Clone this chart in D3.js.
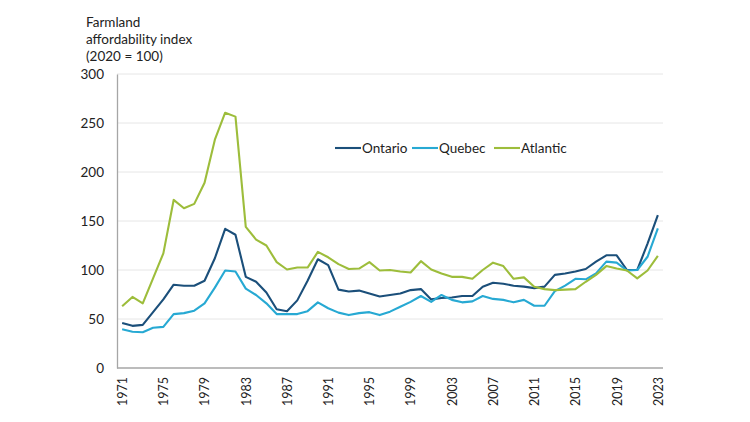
<!DOCTYPE html>
<html><head><meta charset="utf-8">
<script src="https://cdn.jsdelivr.net/npm/d3@7"></script>
<style>body{margin:0;background:#fff}svg{display:block}text{font-family:Lato,"Open Sans",sans-serif}</style>
</head><body><svg id="c" width="750" height="422"></svg>
<script>
const years = d3.range(1971, 2024);
const ontario = [46,43,44,57,70,85,84,84,89,112,142,136,93,88,77,60,58,69,89,111,105,80,78,79,76,73,74.5,76,79.5,80.5,70,71.5,72,73.5,73.5,83,87,86,84,83,81.5,83,95,96.5,98.5,101,108.5,115,115,100,100,127,156];
const quebec = [39.5,37,36.5,41,42,55,56,58.5,66,82,99.5,98.5,81,74.5,66,55,55,55,58,67,61,56.5,54,56,57,54,57.5,62.5,67.5,73.5,67.5,74.5,69.5,67,68,73.5,70.5,69.5,67,69.5,63.5,63.5,78.5,84,91,90.5,96.5,108.5,107.5,99.5,100,113.5,142.5];
const atlantic = [63,72.5,66,91.5,117,171.5,163,167.5,189,233,260.5,256.5,144,131,125,108,100.5,102.5,102.5,118.5,113,106,101,101.5,108,99.5,100,98.5,97.5,109,100.5,96.5,93,93,91,100,107.5,104,91,92.5,83,80.5,79.5,80,80.5,88,95,104,101.5,99.5,91.5,99.5,114.5];
const yTicks = [0,50,100,150,200,250,300];
const xTickYears = d3.range(1971, 2024, 4);
const titleLines = ["Farmland","affordability index","(2020 = 100)"];
const series = [
  {name:"Ontario", values:ontario, color:"#1b4f7a"},
  {name:"Quebec", values:quebec, color:"#27a9d3"},
  {name:"Atlantic", values:atlantic, color:"#9dbd3b"}
];

const svg = d3.select("#c");
const x = d3.scalePoint().domain(years).range([117, 663]).padding(0.5);
const y = d3.scaleLinear().domain([0, 300]).range([368, 74]);

// gridlines
svg.append("g").selectAll("line").data(yTicks.filter(d => d > 0)).join("line")
  .attr("x1", 117).attr("x2", 663)
  .attr("y1", d => y(d)).attr("y2", d => y(d))
  .attr("stroke", "#e6e6e6").attr("stroke-width", 1);

// y axis
const ya = svg.append("g").attr("transform", "translate(117,0)")
  .call(d3.axisLeft(y).tickValues(yTicks).tickSize(0).tickPadding(13));
ya.select(".domain").attr("stroke", "#a6a6a6").attr("stroke-width", 1.3);
ya.selectAll("text").attr("font-size", 13.5).attr("fill", "#222").attr("font-family", "Lato, sans-serif");

// x axis
const xa = svg.append("g").attr("transform", "translate(0,368)")
  .call(d3.axisBottom(x).tickValues(xTickYears).tickSize(0).tickFormat(d3.format("d")));
xa.select(".domain").attr("stroke", "#a6a6a6").attr("stroke-width", 1.3).attr("d", "M117,0H663");
xa.selectAll("text")
  .attr("font-size", 12.5).attr("fill", "#222").attr("font-family", "'DejaVu Sans', sans-serif")
  .attr("transform", "rotate(-90)")
  .attr("text-anchor", "end").attr("dy", "0.35em").attr("x", -9).attr("y", 0);

// lines
const line = d3.line().x((d, i) => x(years[i])).y(d => y(d));
svg.append("g").selectAll("path").data(series).join("path")
  .attr("d", s => line(s.values))
  .attr("fill", "none").attr("stroke", s => s.color).attr("stroke-width", 2.1)
  .attr("stroke-linejoin", "round");

// title
svg.append("text").attr("x", 86).attr("y", 27).attr("font-size", 13.5).attr("fill", "#222")
  .selectAll("tspan").data(titleLines).join("tspan")
  .attr("x", 86).attr("dy", (d, i) => i ? 17 : 0).text(d => d);

// legend
const legX = [335, 412, 494];
const leg = svg.append("g").selectAll("g").data(series).join("g")
  .attr("transform", (d, i) => `translate(${legX[i]},148)`);
leg.append("line").attr("x1", 0).attr("x2", 26).attr("stroke", d => d.color).attr("stroke-width", 2.1);
leg.append("text").attr("x", 27).attr("dy", "0.35em").attr("font-size", 13.5).attr("fill", "#222").text(d => d.name);
</script></body></html>
